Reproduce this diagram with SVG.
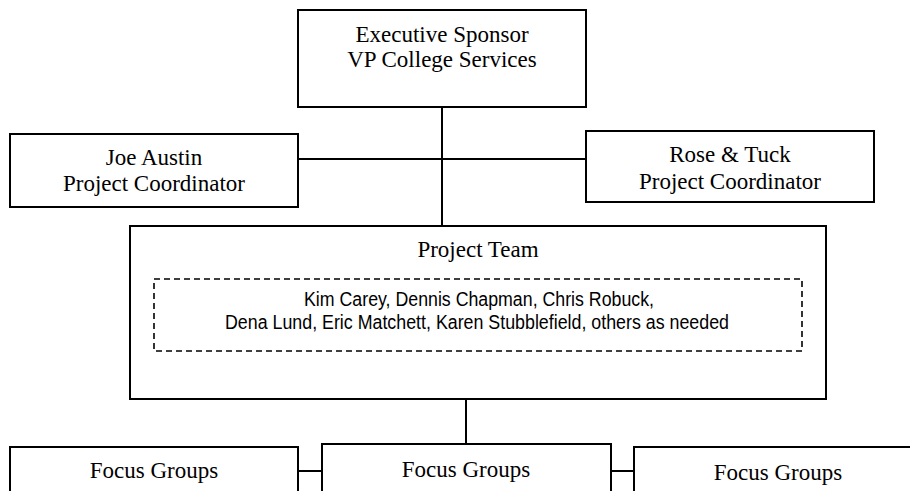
<svg xmlns="http://www.w3.org/2000/svg" width="910" height="491" viewBox="0 0 910 491">
<style>
  .box { fill: #fff; stroke: #000; stroke-width: 2; }
  .dash { fill: none; stroke: #000; stroke-width: 1.6; stroke-dasharray: 6 4; }
  .conn { stroke: #000; stroke-width: 2; fill: none; }
  .t { font-family: "Liberation Serif", "Times New Roman", serif; font-size: 23px; fill: #000; text-anchor: middle; }
  .s { font-family: "Liberation Sans Narrow", "Liberation Sans", Arial, sans-serif; font-size: 20px; fill: #000; text-anchor: middle; }
</style>
<rect width="910" height="491" fill="#fff"/>
<g id="connectors">
  <line class="conn" x1="442" y1="107" x2="442" y2="226"/>
  <line class="conn" x1="298" y1="159" x2="586" y2="159"/>
  <line class="conn" x1="466" y1="399" x2="466" y2="444"/>
  <line class="conn" x1="298" y1="471" x2="322" y2="471"/>
  <line class="conn" x1="611" y1="471" x2="634" y2="471"/>
</g>
<g id="exec">
  <rect class="box" x="298" y="10" width="288" height="97"/>
  <text class="t" x="442" y="42">Executive Sponsor</text>
  <text class="t" x="442" y="67">VP College Services</text>
</g>
<g id="joe">
  <rect class="box" x="10" y="134" width="288" height="73"/>
  <text class="t" x="154" y="165">Joe Austin</text>
  <text class="t" x="154" y="191">Project Coordinator</text>
</g>
<g id="rose">
  <rect class="box" x="586" y="131" width="288" height="71"/>
  <text class="t" x="730" y="162">Rose &amp; Tuck</text>
  <text class="t" x="730" y="189">Project Coordinator</text>
</g>
<g id="team">
  <rect class="box" x="130" y="226" width="696" height="173"/>
  <text class="t" x="478" y="257">Project Team</text>
  <rect class="dash" x="154" y="279" width="648" height="72"/>
  <text class="s" x="479" y="306" textLength="350" lengthAdjust="spacingAndGlyphs">Kim Carey, Dennis Chapman, Chris Robuck,</text>
  <text class="s" x="477" y="329" textLength="504" lengthAdjust="spacingAndGlyphs">Dena Lund, Eric Matchett, Karen Stubblefield, others as needed</text>
</g>
<g id="focus1">
  <rect class="box" x="10" y="447" width="288" height="60"/>
  <text class="t" x="154" y="478">Focus Groups</text>
</g>
<g id="focus2">
  <rect class="box" x="322" y="444" width="289" height="60"/>
  <text class="t" x="466" y="477">Focus Groups</text>
</g>
<g id="focus3">
  <rect class="box" x="634" y="447" width="290" height="60"/>
  <text class="t" x="778" y="480">Focus Groups</text>
</g>
</svg>
